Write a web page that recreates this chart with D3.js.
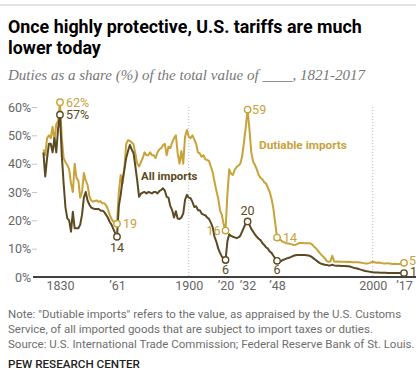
<!DOCTYPE html>
<html>
<head>
<meta charset="utf-8">
<script src="https://cdn.jsdelivr.net/npm/d3@7"></script>
<style>
  html, body { margin: 0; padding: 0; background: #fff; }
  svg { display: block; }
</style>
</head>
<body>
<script>
// ---------- DATA ----------
const firstYear = 1821, lastYear = 2017;
const years = d3.range(firstYear, lastYear + 1);

// Duties as share of dutiable imports (%)
const dutiable = [
  45, 43, 49, 50, 49, 53, 48, 54, 55, 61.7,
  49, 42, 40.5, 39.5, 38, 33, 30, 40, 35, 34,
  28, 30, 36.7, 34, 32.5, 28.5, 27, 26.6, 26.8, 27,
  26.5, 26.8, 26, 26, 25.4, 24, 22, 20.5, 19.5, 19.6,
  18.8, 30, 36, 33, 38, 47, 48.3, 48, 47.5, 46.8,
  43.5, 40, 39, 40.5, 42, 44, 43, 43, 44, 43,
  43, 42, 44, 45, 45.5, 46.5, 47, 43, 46, 45.5,
  47.5, 49, 50, 43.6, 40, 44.5, 40, 49.5, 51.9, 49.5,
  49, 50, 48.6, 47, 44, 43.6, 42.4, 43, 41.5, 41.3,
  41, 39, 37, 33.6, 30.5, 27.8, 23.5, 21.9, 18.5, 16.4,
  29, 38, 36.5, 36, 37.8, 38.8, 39.3, 40, 42.5, 47.5,
  53, 59.1, 52, 44, 40.7, 39.5, 38, 36, 35, 34.5,
  33.5, 33, 31.5, 30, 27.6, 24.2, 19, 13.9, 13.2, 13,
  12.5, 12.2, 11.9, 11.8, 11.7, 11.5, 11.3, 11.4, 11.6, 12,
  12, 12, 11.9, 11.9, 11.9, 11.9, 11.5, 10.8, 10.2, 9.5,
  8.6, 7.9, 7.2, 6.6, 5.6, 5.4, 5.5, 7.5, 5.5, 5.4,
  5.5, 5.4, 5.4, 5.4, 5.4, 5.3, 5.4, 5.3, 5.2, 5.2,
  5.2, 5.2, 5.1, 5.0, 4.9, 4.8, 4.8, 4.9, 5.1, 5.4,
  5.2, 5.0, 5.1, 5.0, 4.9, 4.8, 4.8, 4.9, 4.8, 4.7,
  4.6, 4.7, 4.6, 4.6, 4.6, 4.7, 5.0
];

// Duties as share of all imports (%)
const allImports = [
  44, 35.5, 42, 47, 47, 44, 49, 44, 52.5, 57.3,
  43, 33, 24.5, 20.7, 20, 16, 23, 17.2, 17.2, 17.2,
  18.5, 22, 28, 30, 27, 25.5, 24.5, 24.2, 24, 24,
  24, 23.5, 23.4, 23, 22, 21, 19.5, 18.5, 17, 15.5,
  14.2, 25, 29, 34, 38, 42, 44.5, 46.6, 45, 43.7,
  39, 34, 28.3, 29.4, 29.8, 30, 29.5, 30, 29.8, 29.5,
  30, 30, 29.5, 30.3, 30.7, 31.3, 30.5, 28.3, 28, 25,
  23.6, 21, 23.2, 20.6, 20.5, 21, 22.4, 27.2, 29, 28,
  27.8, 26.5, 24.7, 25, 23.6, 23.6, 22.4, 22, 21.8, 21,
  20.5, 19.2, 17.6, 14.2, 12.5, 10.1, 8.5, 7.2, 6.5, 6.0,
  12.5, 15.1, 14.5, 14.2, 14, 13.7, 14, 14.5, 16, 17.5,
  19, 19.6, 18.4, 17, 16, 15, 14.2, 13.5, 13, 12,
  11.3, 10.5, 10, 9, 8.5, 7.5, 6.6, 5.7, 5.4, 5.5,
  6, 6.2, 6.5, 6.7, 6.9, 7.2, 7.5, 7.7, 7.8, 7.8,
  7.8, 7.8, 7.8, 7.7, 7.6, 7.4, 7, 6.5, 6, 5.5,
  5, 4.7, 4.5, 4.3, 4.2, 4.1, 4.1, 4.3, 4.1, 4.0,
  4, 4, 3.9, 3.9, 3.9, 3.8, 3.8, 3.6, 3.4, 3.2,
  3.1, 2.9, 2.7, 2.5, 2.3, 2.1, 2.0, 1.9, 1.8, 1.7,
  1.6, 1.6, 1.6, 1.5, 1.5, 1.5, 1.5, 1.4, 1.4, 1.4,
  1.4, 1.4, 1.4, 1.4, 1.4, 1.4, 1.4
];

const markedYears = [1830, 1861, 1920, 1932, 1948, 2017];
const xTickYears = [1830, 1861, 1900, 1920, 1932, 1948, 2000, 2017];
const xTickLabels = ["1830", "\u201961", "1900", "\u201920", "\u201932", "\u201948", "2000", "\u201917"];
const yTicks = [0, 10, 20, 30, 40, 50, 60];
const guideYears = [1900, 2000];

const titleLines = ["Once highly protective, U.S. tariffs are much", "lower today"];
const subtitle = "Duties as a share (%) of the total value of ____, 1821-2017";
const noteLines = [
  "Note: \"Dutiable imports\" refers to the value, as appraised by the U.S. Customs",
  "Service, of all imported goods that are subject to import taxes or duties.",
  "Source: U.S. International Trade Commission; Federal Reserve Bank of St. Louis."
];
const credit = "PEW RESEARCH CENTER";
const seriesNames = ["Dutiable imports", "All imports"];

// ---------- STYLE ----------
const W = 416, H = 375;
const GOLD = "#c9a23a", DARK = "#5b4a22";
const SANS = "Roboto, 'Noto Sans', Arial, sans-serif";

const svg = d3.select("body").append("svg").attr("width", W).attr("height", H);

function fitFont(sel, target, base) {
  sel.style("font-size", base + "px");
  const w = sel.node().getComputedTextLength();
  const s = base * target / w;
  sel.style("font-size", s + "px");
  return s;
}

// top rule
svg.append("line").attr("x1", 0).attr("x2", W).attr("y1", 5).attr("y2", 5)
  .attr("stroke", "#c8c8c8").attr("stroke-width", 1);

// title
const t1 = svg.append("text").attr("x", 8).attr("y", 32.5)
  .style("font-family", SANS).style("font-weight", 700).attr("fill", "#000").text(titleLines[0]);
const ts = fitFont(t1, 354, 17);
svg.append("text").attr("x", 8).attr("y", 53.5)
  .style("font-family", SANS).style("font-weight", 700).style("font-size", ts + "px")
  .attr("fill", "#000").text(titleLines[1]);

// subtitle
const st = svg.append("text").attr("x", 8).attr("y", 80)
  .style("font-family", "'Liberation Serif', 'DejaVu Serif', serif").style("font-style", "italic")
  .attr("fill", "#777").text(subtitle);
fitFont(st, 357, 14);

// ---------- CHART ----------
const x = d3.scaleLinear().domain([firstYear, lastYear]).range([43.4, 404]);
const y = d3.scaleLinear().domain([0, 60]).range([277, 107]);

// guides
svg.selectAll("line.guide").data(guideYears).join("line").attr("class", "guide")
  .attr("x1", d => x(d)).attr("x2", d => x(d))
  .attr("y1", y(60)).attr("y2", y(0))
  .attr("stroke", "#bdbdbd").attr("stroke-width", 1).attr("stroke-dasharray", "1,2");

// y axis
const yAxis = d3.axisLeft(y).tickValues(yTicks).tickFormat(d => d + "%").tickSize(5).tickPadding(0.8);
const gy = svg.append("g").attr("transform", "translate(37,0)").call(yAxis);
gy.select(".domain").remove();
gy.selectAll(".tick line").attr("stroke", "#c4c4c4");
gy.selectAll(".tick").filter(d => d === 0).select("line").remove();
gy.selectAll("text").style("font-family", SANS).style("font-size", "12.5px").attr("fill", "#666");

// x axis
const xAxis = d3.axisBottom(x).tickValues(xTickYears)
  .tickFormat((d, i) => xTickLabels[i]).tickSize(0).tickPadding(4);
const gx = svg.append("g").attr("transform", `translate(0,${y(0)})`).call(xAxis);
gx.select(".domain").remove();
gx.selectAll("text").style("font-family", SANS).style("font-size", "12.5px").attr("fill", "#666");

// baseline
svg.append("line").attr("x1", 33).attr("x2", W).attr("y1", y(0)).attr("y2", y(0))
  .attr("stroke", "#000").attr("stroke-width", 1.5);

// lines
const line = d3.line().x((d, i) => x(years[i])).y(d => y(d));
svg.append("path").datum(dutiable).attr("d", line)
  .attr("fill", "none").attr("stroke", GOLD).attr("stroke-width", 2).attr("stroke-linejoin", "round");
svg.append("path").datum(allImports).attr("d", line)
  .attr("fill", "none").attr("stroke", DARK).attr("stroke-width", 2).attr("stroke-linejoin", "round");

// series labels
const sl1 = svg.append("text").attr("x", 259).attr("y", 149)
  .style("font-family", SANS).style("font-weight", 700).attr("fill", GOLD).text(seriesNames[0]);
fitFont(sl1, 88, 12);
const sl2 = svg.append("text").attr("x", 141).attr("y", 180)
  .style("font-family", SANS).style("font-weight", 700).attr("fill", DARK).text(seriesNames[1]);
fitFont(sl2, 56.5, 12);

// markers + value labels
// placement per marker index: [dx, dy, anchor]
const goldPlace = [[6, 4.5, "start"], [6, 4.5, "start"], [-5, 4.5, "end"], [4.5, 4.5, "start"], [6, 4.5, "start"], [5, 2, "start"]];
const darkPlace = [[6, 4.5, "start"], [0, 15.5, "middle"], [0, 13.5, "middle"], [0, -6.5, "middle"], [0, 13.5, "middle"], [6, 2.5, "start"]];

function drawMarkers(values, color, place, pct) {
  markedYears.forEach((yr, i) => {
    const v = values[yr - firstYear];
    const cx = x(yr), cy = y(v);
    svg.append("circle").attr("cx", cx).attr("cy", cy).attr("r", 3.2)
      .attr("fill", "#fff").attr("stroke", color).attr("stroke-width", 1.4);
    const p = place[i];
    svg.append("text").attr("x", cx + p[0]).attr("y", cy + p[1]).attr("text-anchor", p[2])
      .style("font-family", SANS).style("font-size", "12.5px").attr("fill", color)
      .text(Math.round(v) + (i === 0 ? "%" : ""));
  });
}
drawMarkers(dutiable, GOLD, goldPlace);
drawMarkers(allImports, DARK, darkPlace);

// notes
const noteSel = svg.selectAll("text.note").data(noteLines).join("text").attr("class", "note")
  .attr("x", 8).attr("y", (d, i) => 317.5 + i * 15)
  .style("font-family", SANS).attr("fill", "#6e6e6e").text(d => d);
const ns = fitFont(d3.select(noteSel.nodes()[2]), 407, 10.5);
noteSel.style("font-size", ns + "px");

// credit
const cr = svg.append("text").attr("x", 8).attr("y", 368)
  .style("font-family", SANS).style("font-weight", 500).attr("fill", "#222").text(credit);
fitFont(cr, 132, 11);
</script>
</body>
</html>
